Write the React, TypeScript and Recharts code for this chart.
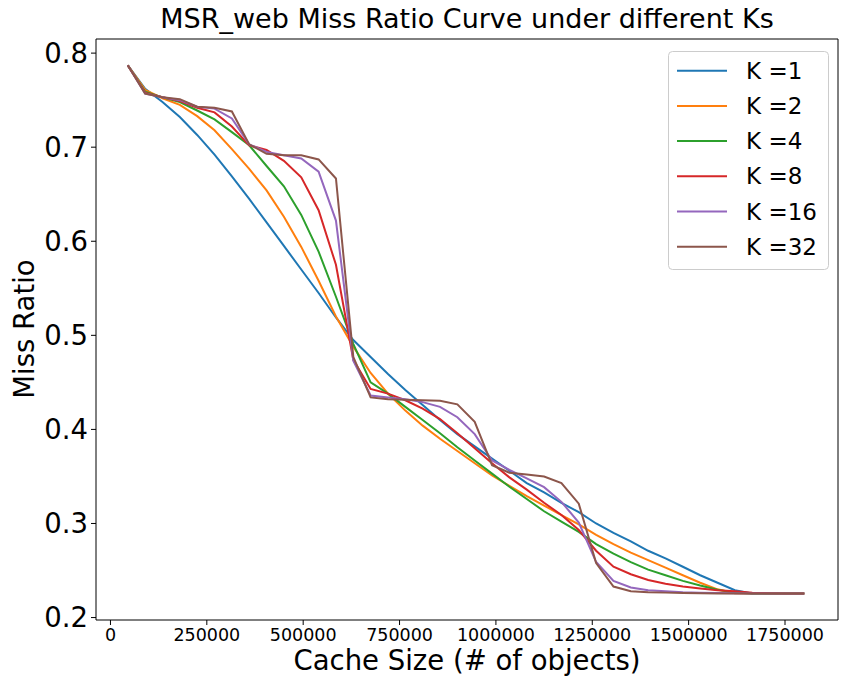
import { LineChart, Line, XAxis, YAxis } from "recharts";

// cache sizes (x) and miss ratios per K
const cacheSizes = [
  45000, 90000, 135000, 180000, 225000, 270000, 315000, 360000, 405000, 450000,
  495000, 540000, 585000, 630000, 675000, 720000, 765000, 810000, 855000, 900000,
  945000, 990000, 1035000, 1080000, 1125000, 1170000, 1215000, 1260000, 1305000, 1350000,
  1395000, 1440000, 1485000, 1530000, 1575000, 1620000, 1665000, 1710000, 1755000, 1800000,
];

const k1 = [
  0.787, 0.762, 0.748, 0.732, 0.713, 0.692, 0.669, 0.645, 0.62, 0.595,
  0.57, 0.545, 0.519, 0.495, 0.477, 0.459, 0.442, 0.426, 0.41, 0.395,
  0.382, 0.369, 0.356, 0.343, 0.333, 0.322, 0.312, 0.3, 0.29, 0.281,
  0.271, 0.263, 0.254, 0.245, 0.237, 0.229, 0.2255, 0.2255, 0.2255, 0.2255,
];
const k2 = [
  0.787, 0.761, 0.752, 0.745, 0.733, 0.718, 0.698, 0.677, 0.654, 0.626,
  0.594, 0.558, 0.52, 0.488, 0.46, 0.438, 0.42, 0.404, 0.39, 0.377,
  0.364, 0.351, 0.34, 0.329, 0.319, 0.309, 0.299, 0.288, 0.278, 0.269,
  0.261, 0.253, 0.245, 0.237, 0.23, 0.2258, 0.2255, 0.2255, 0.2255, 0.2255,
];
const k4 = [
  0.787, 0.759, 0.753, 0.748, 0.739, 0.7295, 0.716, 0.702, 0.68, 0.6585,
  0.628, 0.589, 0.541, 0.491, 0.45, 0.438, 0.424, 0.41, 0.396, 0.381,
  0.367, 0.353, 0.339, 0.326, 0.313, 0.302, 0.291, 0.278, 0.268, 0.259,
  0.251, 0.245, 0.239, 0.234, 0.2295, 0.2265, 0.2255, 0.2255, 0.2255, 0.2255,
];
const k8 = [
  0.787, 0.758, 0.753, 0.749, 0.742, 0.737, 0.722, 0.702, 0.697, 0.6855,
  0.668, 0.633, 0.575, 0.474, 0.443, 0.438, 0.431, 0.422, 0.411, 0.396,
  0.38, 0.364, 0.349, 0.336, 0.322, 0.309, 0.293, 0.271, 0.254, 0.246,
  0.24, 0.236, 0.233, 0.231, 0.229, 0.228, 0.2265, 0.2258, 0.2255, 0.2255,
];
const k16 = [
  0.787, 0.757, 0.753, 0.75, 0.743, 0.741, 0.7305, 0.703, 0.695, 0.6915,
  0.688, 0.674, 0.622, 0.473, 0.436, 0.434, 0.432, 0.429, 0.424, 0.413,
  0.395, 0.367, 0.357, 0.348, 0.3386, 0.323, 0.301, 0.259, 0.239, 0.232,
  0.229, 0.228, 0.227, 0.2265, 0.226, 0.2258, 0.2255, 0.2255, 0.2255, 0.2255,
];
const k32 = [
  0.787, 0.757, 0.753, 0.751, 0.743, 0.742, 0.738, 0.703, 0.693, 0.6915,
  0.6915, 0.687, 0.6667, 0.477, 0.434, 0.432, 0.4316, 0.431, 0.4305, 0.4266,
  0.408, 0.362, 0.354, 0.352, 0.35, 0.343, 0.321, 0.258, 0.233, 0.228,
  0.227, 0.2265, 0.226, 0.2258, 0.2255, 0.2255, 0.2255, 0.2255, 0.2255, 0.2255,
];

const xTicks = [0, 250000, 500000, 750000, 1000000, 1250000, 1500000, 1750000];
const yTicks = [0.2, 0.3, 0.4, 0.5, 0.6, 0.7, 0.8];

const SERIES = [
  { key: "k1", name: "K =1", color: "#1f77b4", values: k1 },
  { key: "k2", name: "K =2", color: "#ff7f0e", values: k2 },
  { key: "k4", name: "K =4", color: "#2ca02c", values: k4 },
  { key: "k8", name: "K =8", color: "#d62728", values: k8 },
  { key: "k16", name: "K =16", color: "#9467bd", values: k16 },
  { key: "k32", name: "K =32", color: "#8c564b", values: k32 },
];

const data = cacheSizes.map((size, i) => {
  const row: Record<string, number> = { size };
  SERIES.forEach((s) => (row[s.key] = s.values[i]));
  return row;
});

const FONT = "DejaVu Sans";
const X_DOMAIN = [-37500, 1887500];
const Y_DOMAIN = [0.1974, 0.815];

// plot box, matches the chart margins and axis sizes below
const PLOT = { left: 96, top: 39, right: 838, bottom: 620 };

export default function App() {
  return (
    <div style={{ position: "absolute", left: 0, top: 0, width: 841, height: 679, background: "#fff" }}>
      <LineChart
        width={841}
        height={679}
        data={data}
        margin={{ top: PLOT.top, right: 841 - PLOT.right, bottom: 0, left: 0 }}
      >
        <XAxis
          dataKey="size"
          type="number"
          domain={X_DOMAIN}
          ticks={xTicks}
          allowDataOverflow
          height={679 - PLOT.bottom}
          tickSize={5}
          tickMargin={4}
          stroke="#000"
          tick={{ fill: "#000", fontSize: 17.5, fontFamily: FONT }}
        />
        <YAxis
          type="number"
          domain={Y_DOMAIN}
          ticks={yTicks}
          allowDataOverflow
          width={PLOT.left}
          tickSize={5}
          tickMargin={3}
          stroke="#000"
          tickFormatter={(v: number) => v.toFixed(1)}
          tick={{ fill: "#000", fontSize: 27.5, fontFamily: FONT }}
        />
        {SERIES.map((s) => (
          <Line
            key={s.key}
            type="linear"
            dataKey={s.key}
            name={s.name}
            stroke={s.color}
            strokeWidth={2}
            dot={false}
            isAnimationActive={false}
          />
        ))}
      </LineChart>

      <svg
        width={841}
        height={679}
        style={{ position: "absolute", left: 0, top: 0, pointerEvents: "none" }}
        fontFamily={FONT}
      >
        {/* top and right spines */}
        <polyline
          points={`${PLOT.left},${PLOT.top} ${PLOT.right},${PLOT.top} ${PLOT.right},${PLOT.bottom}`}
          fill="none"
          stroke="#000"
          strokeWidth={1}
        />

        <text x={467} y={28} textAnchor="middle" fontSize={27}>
          MSR_web Miss Ratio Curve under different Ks
        </text>
        <text x={467} y={670} textAnchor="middle" fontSize={27.5}>
          Cache Size (# of objects)
        </text>
        <text x={34} y={329} textAnchor="middle" fontSize={27.5} transform="rotate(-90 34 329)">
          Miss Ratio
        </text>

        <rect x={668.5} y={51.5} width={160} height={218} rx={4} fill="#fff" fillOpacity={0.8} stroke="#cccccc" />
        {SERIES.map((s, i) => {
          const y = 70.7 + i * 35.2;
          return (
            <g key={s.key}>
              <line x1={677} x2={727} y1={y} y2={y} stroke={s.color} strokeWidth={2} />
              <text x={746} y={y} dominantBaseline="central" fontSize={23}>
                {s.name}
              </text>
            </g>
          );
        })}
      </svg>
    </div>
  );
}
